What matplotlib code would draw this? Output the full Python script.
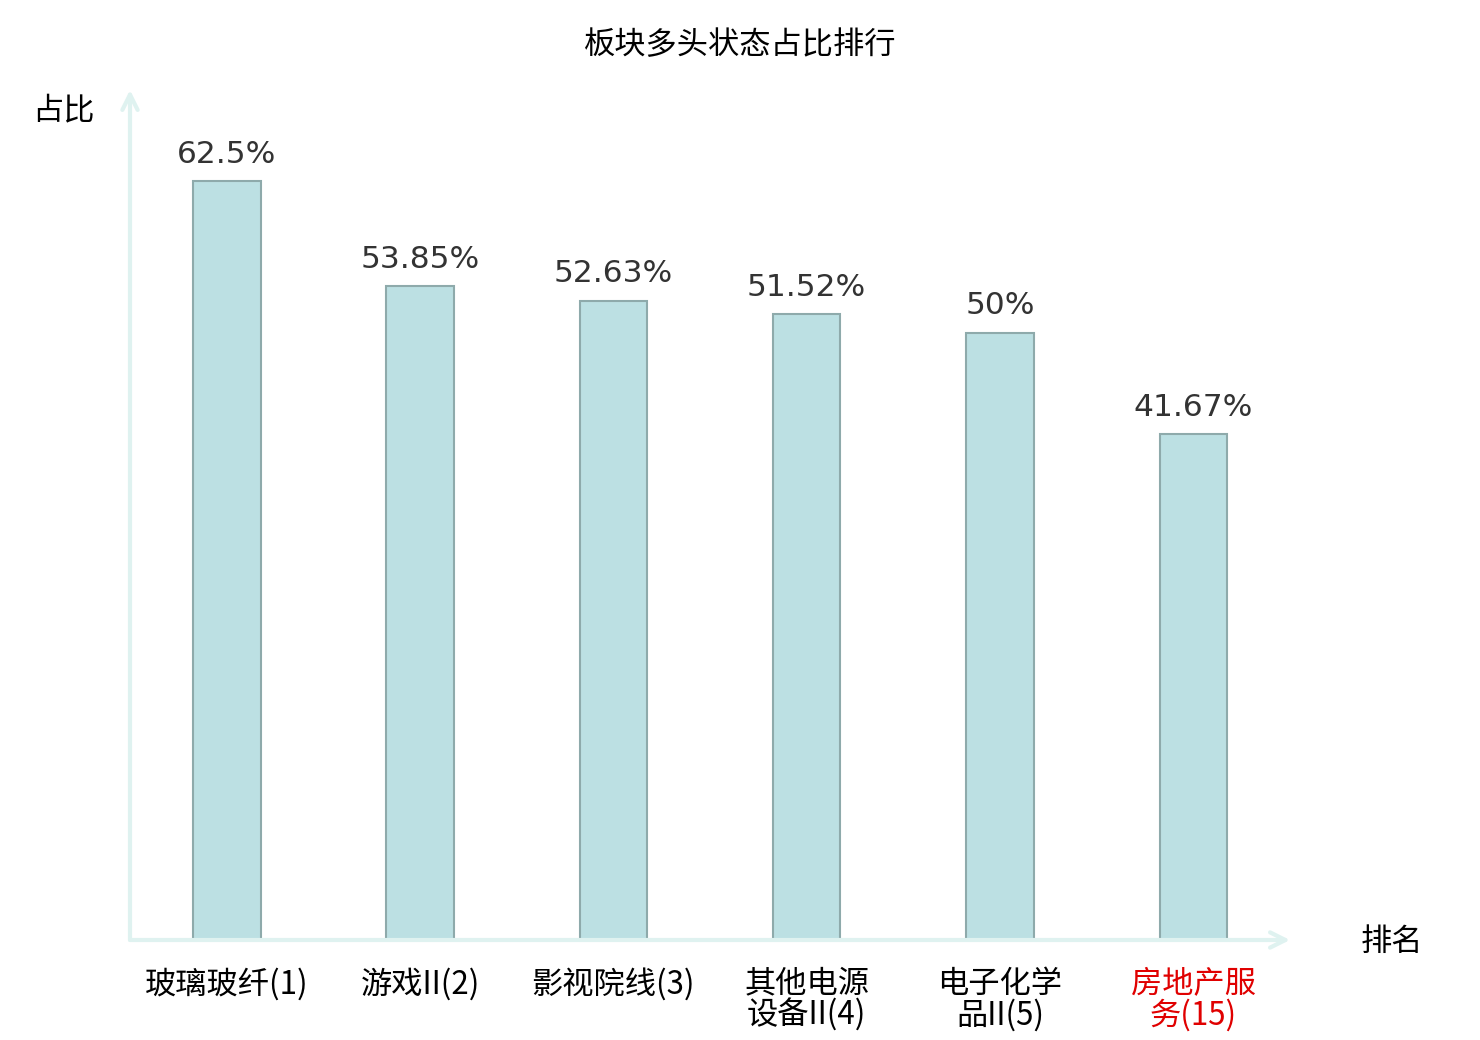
import matplotlib
matplotlib.use("Agg")
import matplotlib.pyplot as plt

plt.rcParams['font.family'] = ['Noto Sans CJK SC', 'DejaVu Sans']

categories = ["玻璃玻纤(1)", "游戏II(2)", "影视院线(3)", "其他电源\n设备II(4)", "电子化学\n品II(5)", "房地产服\n务(15)"]
values = [62.5, 53.85, 52.63, 51.52, 50.0, 41.67]
value_labels = ["62.5%", "53.85%", "52.63%", "51.52%", "50%", "41.67%"]
label_colors = ["#000000", "#000000", "#000000", "#000000", "#000000", "#e00000"]

fig = plt.figure(figsize=(14.8, 10.4), dpi=100)
ax = fig.add_axes([130/1480, 100/1040, 1160/1480, 850/1040])

x = list(range(len(categories)))
bars = ax.bar(x, values, width=0.35, color="#bce0e3", edgecolor="#8eaaab", linewidth=1.5, zorder=3)

for xi, v, lab in zip(x, values, value_labels):
    ax.annotate(lab, (xi, v), xytext=(0, 9), textcoords="offset points",
                ha="center", va="bottom", fontsize=22.5, color="#333333",
                family=["DejaVu Sans"])

ax.set_xlim(-0.5, 5.5)
ax.set_ylim(0, 70)

for s in ["top", "right", "left", "bottom"]:
    ax.spines[s].set_visible(False)

axis_col = "#dff2f0"
astyle = "->,head_length=1.1,head_width=0.55"
ax.annotate("", xy=(0, 1.0), xytext=(0, 0), xycoords="axes fraction",
            arrowprops=dict(arrowstyle=astyle, color=axis_col, lw=3, shrinkA=0, shrinkB=0))
ax.annotate("", xy=(1.0, 0), xytext=(0, 0), xycoords="axes fraction",
            arrowprops=dict(arrowstyle=astyle, color=axis_col, lw=3, shrinkA=0, shrinkB=0))

ax.set_yticks([])
ax.set_xticks(x)
ax.set_xticklabels(categories, fontsize=22.5, linespacing=0.95)
ax.tick_params(axis="x", length=0, pad=20)
for t, c in zip(ax.get_xticklabels(), label_colors):
    t.set_color(c)

fig.text(63/1480, 1 - 110/1040, "占比", fontsize=22.5, ha="center", va="center")
fig.text(1392/1480, 1 - 942/1040, "排名", fontsize=22.5, ha="center", va="center")
fig.text(740/1480, 1 - 45/1040, "板块多头状态占比排行", fontsize=22.5, ha="center", va="center")

fig.savefig("out.png", dpi=100)
